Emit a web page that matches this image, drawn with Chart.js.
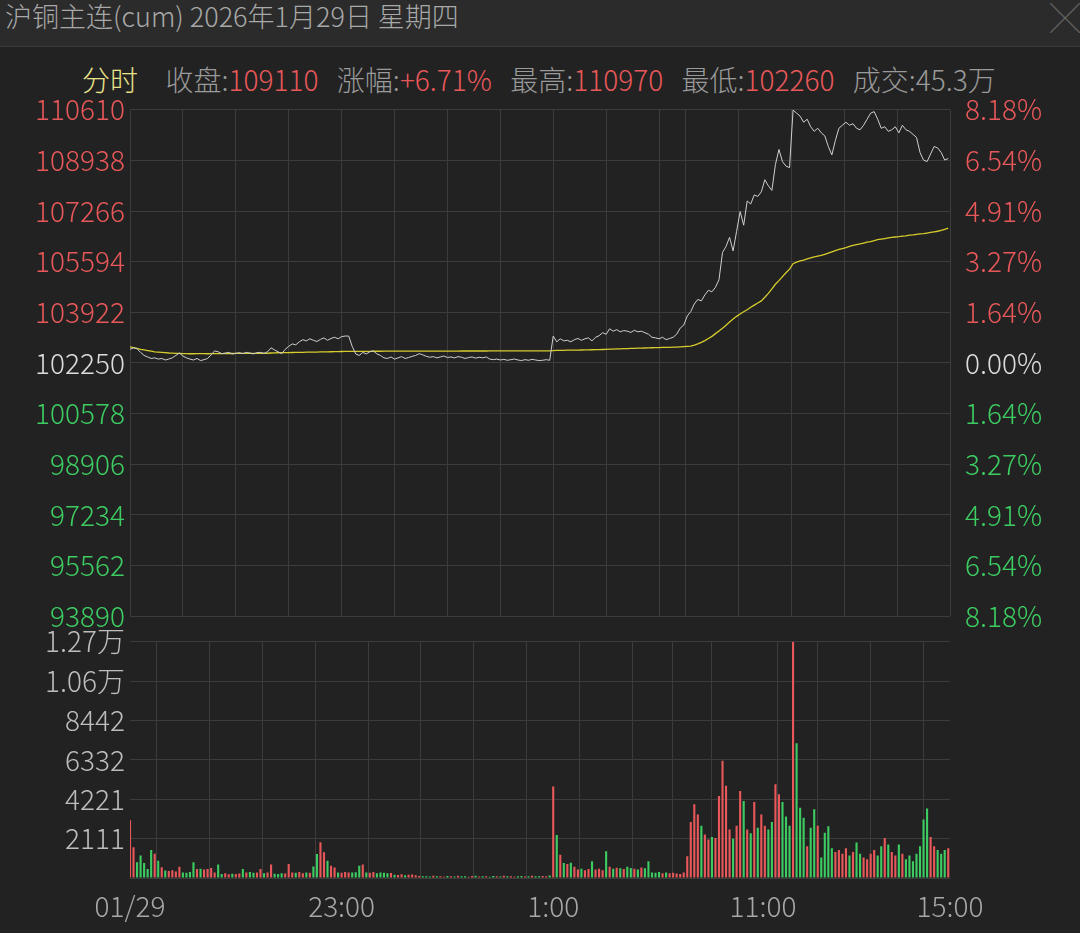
<!DOCTYPE html>
<html><head><meta charset="utf-8">
<script src="https://cdn.jsdelivr.net/npm/chart.js@4/dist/chart.umd.min.js"></script>
<style>
html,body{margin:0;padding:0;background:#222222;width:1080px;height:933px;overflow:hidden;font-family:"Noto Sans CJK SC","Noto Sans",sans-serif;}
#bar{position:absolute;left:0;top:0;width:1080px;height:46px;background:#2b2b2b;border-bottom:1px solid #3a3a3a;}
#title{position:absolute;left:5px;top:0px;font-size:27px;color:#a8a8a8;line-height:32px;font-weight:300;}
#close{position:absolute;left:1050px;top:0px;font-size:30px;color:#666;line-height:32px;font-weight:200;}
#info{position:absolute;left:82px;top:60px;font-size:28px;color:#9a9a9a;line-height:38px;white-space:pre;font-weight:300;word-spacing:3px;}
#info .y{color:#e9e38a;}#info .r{color:#e8585a;}
#pw{position:absolute;left:0;top:86px;width:1080px;height:554px;}
#vw{position:absolute;left:0;top:620px;width:1080px;height:313px;}
</style></head><body>
<div id="bar"><div id="title">沪铜主连(cum) 2026年1月29日 星期四</div><div id="close">╳</div></div>
<div id="info"><span class="y">分时</span>   收盘:<span class="r">109110</span>  涨幅:<span class="r">+6.71%</span>  最高:<span class="r">110970</span>  最低:<span class="r">102260</span>  成交:45.3万</div>
<div id="pw"><canvas id="pc"></canvas></div>
<div id="vw"><canvas id="vc"></canvas></div>
<script>
const PREV_CLOSE = 102250;
const STEP_MIN = 2;
const priceTicks = [93890,95562,97234,98906,100578,102250,103922,105594,107266,108938,110610];
const volTicks = [0,2111,4221,6332,8442,10553,12664];
const volTickLabels = ['','2111','4221','6332','8442','1.06万','1.27万'];
const gridMinutes = [0,30,60,90,120,150,180,210,240,270,300,315,345,375,405,435,465];
const timeLabelMinutes = [0,120,240,359,465];
const timeLabels = ['01/29','23:00','1:00','11:00','15:00'];

const price = [
102700,102750,102720,102600,102500,102450,102400,102420,102380,102400,102350,102380,102420,102500,102580,
102480,102420,102380,102350,102400,102330,102360,102400,102520,102650,102620,102560,102580,102600,102550,
102570,102590,102560,102600,102580,102550,102590,102600,102570,102620,102750,102680,102620,102560,102700,
102800,102880,102850,102950,103020,102980,103050,103000,102960,103030,103080,103000,103060,103100,103050,
103120,103140,103140,102800,102550,102500,102600,102550,102620,102650,102550,102500,102420,102400,102450,
102380,102420,102460,102400,102430,102470,102500,102560,102520,102470,102440,102460,102420,102450,102480,
102430,102450,102420,102460,102440,102400,102430,102450,102410,102440,102420,102450,102380,102360,102380,
102350,102370,102340,102360,102380,102350,102330,102360,102340,102370,102350,102330,102340,102360,102340,
103140,102950,103050,102980,103000,102950,103020,103060,103000,103050,103080,102980,103100,103150,103250,
103200,103380,103300,103350,103280,103320,103300,103260,103330,103280,103300,103250,103200,103100,103080,
103050,103100,103020,103060,103100,103200,103400,103500,103800,103950,104200,104350,104300,104500,104650,
104600,104750,105000,105900,106100,106400,105950,106600,107250,106800,107600,107500,107800,107750,107900,
108300,108100,107950,108800,109300,108900,108750,108700,110600,110500,110400,110200,110300,110050,109900,
110000,109850,109750,109400,109120,109600,110000,110100,110200,110100,110150,110000,109950,110100,110300,
110500,110550,110300,110000,110050,109900,109950,110050,109850,110100,109950,109900,109800,109700,109200,
108950,108900,109150,109400,109350,109200,108950,109000
];
const avgPrice = [
102780,102760,102730,102700,102680,102660,102640,102620,102610,102600,102590,102580,102575,102570,102565,
102560,102560,102555,102555,102560,102560,102558,102556,102558,102560,102562,102562,102562,102563,102564,
102565,102565,102566,102567,102568,102568,102569,102570,102571,102572,102580,102585,102588,102590,102592,
102594,102596,102598,102600,102603,102606,102608,102610,102612,102615,102618,102620,102622,102625,102628,
102630,102634,102636,102636,102636,102636,102636,102637,102637,102638,102638,102638,102639,102639,102639,
102640,102640,102640,102641,102641,102641,102642,102642,102642,102643,102643,102643,102644,102644,102644,
102645,102645,102645,102645,102646,102646,102646,102646,102647,102647,102647,102647,102648,102648,102648,
102648,102648,102649,102649,102649,102649,102649,102650,102650,102650,102650,102650,102650,102650,102650,
102660,102665,102668,102670,102672,102674,102676,102678,102680,102682,102685,102688,102690,102693,102696,
102700,102705,102710,102714,102718,102722,102726,102730,102734,102738,102742,102746,102750,102754,102757,
102760,102763,102766,102769,102772,102776,102782,102790,102800,102810,102840,102880,102930,102990,103060,
103130,103220,103310,103400,103500,103600,103700,103790,103870,103940,104010,104090,104160,104230,104300,
104420,104550,104700,104850,104970,105100,105230,105350,105530,105580,105620,105650,105690,105720,105750,
105780,105800,105840,105880,105920,105960,106000,106030,106060,106100,106130,106160,106180,106210,106240,
106260,106290,106320,106340,106360,106380,106400,106410,106420,106440,106450,106470,106480,106500,106510,
106520,106540,106560,106580,106600,106630,106660,106700
];
const volume = [
3090,1650,850,1200,800,480,1500,1300,930,570,400,380,420,350,600,300,280,320,850,480,
500,450,480,540,300,720,220,250,200,230,210,240,480,300,320,280,300,480,260,300,
720,230,220,250,240,750,300,280,320,260,300,280,610,1290,1920,1380,930,660,560,300,
280,320,300,290,310,660,720,300,280,320,260,300,280,250,270,180,160,200,150,170,
190,150,110,90,100,80,120,90,100,70,110,90,80,120,100,90,70,110,120,80,
90,100,70,110,90,80,120,100,90,70,100,110,80,90,120,100,90,110,100,130,
4900,2300,1250,800,750,820,600,450,500,420,480,900,450,500,420,1440,600,500,550,520,
480,600,540,500,460,560,520,900,300,280,320,250,300,260,280,240,220,300,1170,3000,
3950,3400,2800,2330,2060,2200,2150,4400,6290,4940,2600,2100,2800,4670,4130,2600,2400,4080,2700,3410,
2800,2600,3000,5030,4490,4080,3300,2800,12664,7220,3770,3230,1700,2700,3680,2800,1100,2420,2780,1600,
1400,1500,1300,1600,1200,1400,1900,1300,1100,1000,1300,1500,1200,1700,2150,1800,1400,1200,1800,1300,
1000,1200,900,1300,1700,3140,3720,2200,1700,1500,1300,1500,1600
];

const GRID = '#3c3c3c';
const RED = '#e8585a', GREEN = '#3dcc62', WHITE = '#dcdcdc';
const FONT = {family:'"Noto Sans CJK SC","Noto Sans",sans-serif', size:28, weight:'300'};
const pts = arr => arr.map((v,i)=>({x:i*STEP_MIN, y:v}));
const fixW = w => function(s){ s.width = w; };
const gridTicks = s => { s.ticks = gridMinutes.map(v=>({value:v})); };

const xBase = {type:'linear', min:0, max:465, offset:false,
  grid:{color:GRID, drawTicks:false}, border:{display:false}};

new Chart(document.getElementById('pc'), {
  type:'line',
  data:{datasets:[
    {data:pts(price), borderColor:'#cfcfcf', borderWidth:1, pointRadius:0, tension:0, yAxisID:'y'},
    {data:pts(avgPrice), borderColor:'#d6cc2c', borderWidth:1.3, pointRadius:0, tension:0, yAxisID:'y'}
  ]},
  options:{responsive:true, maintainAspectRatio:false, animation:false,
    layout:{padding:{top:0, bottom:12}},
    plugins:{legend:{display:false}, tooltip:{enabled:false}},
    scales:{
      x:{...xBase, ticks:{display:false}, afterBuildTicks:gridTicks, afterFit:s=>{s.height=0;}},
      y:{position:'left', min:priceTicks[0], max:priceTicks[priceTicks.length-1],
         afterBuildTicks:s=>{s.ticks=priceTicks.map(v=>({value:v}));}, afterFit:fixW(130),
         grid:{color:GRID, drawTicks:false}, border:{display:false},
         ticks:{font:FONT, padding:5, callback:v=>String(v),
           color:c=>c.tick.value>PREV_CLOSE?RED:(c.tick.value<PREV_CLOSE?GREEN:WHITE)}},
      y2:{position:'right', min:priceTicks[0], max:priceTicks[priceTicks.length-1],
         afterBuildTicks:s=>{s.ticks=priceTicks.map(v=>({value:v}));}, afterFit:fixW(130),
         grid:{display:false}, border:{display:false},
         ticks:{font:FONT, padding:7,
           callback:v=>(Math.abs(v-PREV_CLOSE)/PREV_CLOSE*100).toFixed(2)+'%',
           color:c=>c.tick.value>PREV_CLOSE?RED:(c.tick.value<PREV_CLOSE?GREEN:WHITE)}}
    }}
});

const volColors = volume.map((v,i)=> i===0 ? RED : (price[i]>=price[i-1]?RED:GREEN));
new Chart(document.getElementById('vc'), {
  type:'bar',
  data:{datasets:[{data:pts(volume), backgroundColor:volColors, barPercentage:0.6, categoryPercentage:1}]},
  options:{responsive:true, maintainAspectRatio:false, animation:false,
    layout:{padding:{top:0, right:130}},
    plugins:{legend:{display:false}, tooltip:{enabled:false}},
    scales:{
      x:{...xBase,
         afterBuildTicks:s=>{s.ticks=[...new Set([...gridMinutes,...timeLabelMinutes])].sort((a,b)=>a-b).map(v=>({value:v}));},
         afterFit:s=>{s.height=55;},
         grid:{drawTicks:false, color:c=>(c.tick && gridMinutes.includes(c.tick.value))?GRID:'rgba(0,0,0,0)'},
         ticks:{font:FONT, color:'#a8a8a8', autoSkip:false, maxRotation:0, padding:12,
           callback:v=>{const k=timeLabelMinutes.indexOf(v); return k>=0?timeLabels[k]:'';}}},
      y:{position:'left', min:0, max:volTicks[volTicks.length-1],
         afterBuildTicks:s=>{s.ticks=volTicks.map(v=>({value:v}));}, afterFit:fixW(130),
         grid:{color:GRID, drawTicks:false}, border:{display:false},
         ticks:{font:FONT, color:'#bdbdbd', padding:5, callback:(v)=>{const k=volTicks.indexOf(v);return k>=0?volTickLabels[k]:'';}}}
    }}
});
</script>
</body></html>
